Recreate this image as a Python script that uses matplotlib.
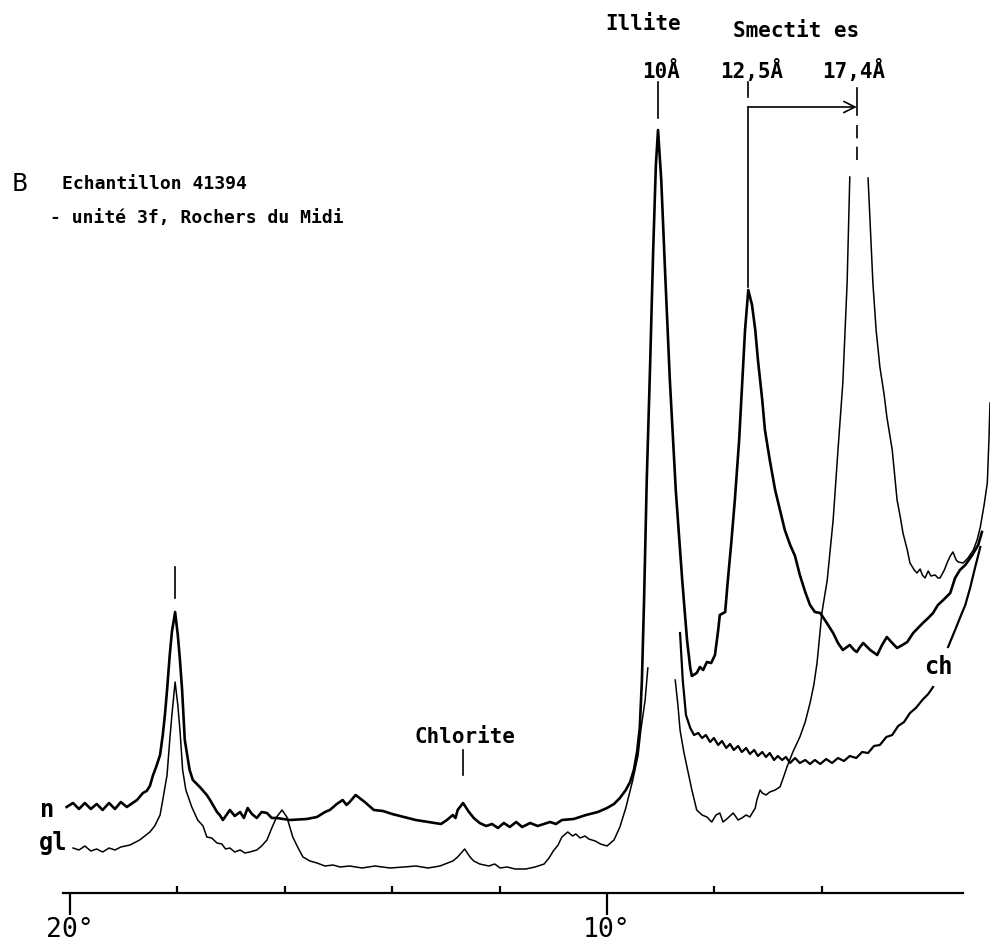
import numpy as np
import matplotlib
matplotlib.use("Agg")
from matplotlib import pyplot as plt

# digitised traces: (2theta in degrees, intensity above the base line)
# n = natural, gl = glycolated, ch = heated; nan = pen gap / off scale
n_trace = [
    (20.06, 86), (19.94, 90), (19.83, 84), (19.72, 90), (19.61, 84), (19.50, 89),
    (19.39, 83), (19.27, 90), (19.16, 84), (19.05, 91), (18.94, 86), (18.83, 90),
    (18.75, 93), (18.64, 100), (18.57, 102), (18.51, 107), (18.45, 118), (18.40, 125),
    (18.32, 138), (18.27, 158), (18.23, 178), (18.19, 203), (18.14, 238), (18.10, 261),
    (18.04, 281), (17.99, 258), (17.95, 233), (17.91, 203), (17.86, 153), (17.77, 123),
    (17.71, 113), (17.58, 106), (17.45, 98), (17.39, 93), (17.26, 81), (17.21, 78),
    (17.15, 73), (17.02, 83), (16.93, 77), (16.83, 81), (16.76, 75), (16.69, 85),
    (16.61, 79), (16.52, 75), (16.43, 81), (16.33, 80), (16.24, 75), (16.15, 75),
    (15.90, 73), (15.59, 74), (15.40, 76), (15.25, 81), (15.16, 83), (15.03, 89),
    (14.92, 93), (14.85, 88), (14.79, 91), (14.68, 98), (14.56, 93), (14.51, 91),
    (14.34, 83), (14.17, 82), (14.00, 79), (13.78, 76), (13.56, 73), (13.33, 71),
    (13.09, 69), (12.98, 73), (12.87, 78), (12.82, 75), (12.78, 83), (12.68, 90),
    (12.57, 81), (12.48, 75), (12.37, 70), (12.25, 67), (12.14, 69), (12.03, 65),
    (11.92, 70), (11.81, 66), (11.69, 71), (11.58, 66), (11.43, 70), (11.29, 67),
    (11.06, 71), (10.95, 69), (10.84, 73), (10.62, 74), (10.39, 78), (10.17, 81),
    (10.00, 85), (9.87, 89), (9.76, 95), (9.65, 103),
    (9.57, 111), (9.50, 123), (9.44, 141), (9.39, 165), (9.35, 213), (9.31, 293),
    (9.26, 413), (9.20, 523), (9.14, 643), (9.09, 728), (9.05, 763), (8.99, 713),
    (8.92, 623), (8.83, 513), (8.72, 403), (8.60, 313), (8.51, 253), (8.45, 225),
    (8.42, 217), (8.33, 220), (8.27, 226), (8.21, 223), (8.14, 231), (8.06, 230),
    (7.99, 238), (7.93, 263), (7.90, 278), (7.80, 281), (7.75, 313), (7.69, 348),
    (7.62, 393), (7.54, 453), (7.49, 503), (7.43, 563), (7.37, 603), (7.30, 588),
    (7.24, 563), (7.19, 533), (7.11, 493), (7.06, 463), (6.97, 433), (6.87, 403),
    (6.78, 383), (6.69, 363), (6.59, 348), (6.50, 337), (6.41, 318), (6.31, 301),
    (6.22, 288), (6.13, 281), (6.03, 280), (5.92, 271), (5.79, 260), (5.70, 250),
    (5.61, 243), (5.53, 246), (5.48, 248), (5.40, 243), (5.35, 241), (5.29, 246),
    (5.23, 250), (5.10, 243), (4.97, 238), (4.88, 248), (4.79, 256), (4.69, 250),
    (4.60, 245), (4.50, 248), (4.41, 251), (4.30, 260), (4.21, 265), (4.12, 270),
    (4.02, 275), (3.93, 280), (3.84, 288), (3.74, 293), (3.61, 300), (3.52, 315),
    (3.43, 323), (3.33, 328), (3.20, 338), (3.09, 348), (3.02, 361),
]

gl_trace = [
    (19.94, 45), (19.83, 43), (19.72, 47), (19.61, 42), (19.50, 44), (19.39, 41),
    (19.27, 45), (19.16, 43), (19.05, 46), (18.88, 48), (18.70, 53), (18.51, 61),
    (18.42, 67), (18.32, 78), (18.27, 93), (18.19, 118), (18.14, 153), (18.10, 178),
    (18.04, 211), (17.99, 188), (17.95, 163), (17.90, 123), (17.84, 103), (17.73, 86),
    (17.62, 73), (17.52, 67), (17.45, 56), (17.36, 55), (17.26, 50), (17.17, 49),
    (17.10, 44), (17.02, 45), (16.93, 41), (16.83, 43), (16.74, 40), (16.65, 41),
    (16.52, 43), (16.43, 47), (16.33, 53), (16.24, 65), (16.15, 76), (16.05, 83),
    (15.96, 76), (15.85, 56), (15.75, 45), (15.66, 36), (15.53, 32), (15.40, 30),
    (15.25, 27), (15.10, 28), (14.97, 26), (14.79, 27), (14.56, 25), (14.32, 27),
    (14.04, 25), (13.78, 26), (13.56, 27), (13.33, 25), (13.11, 27), (12.87, 32),
    (12.78, 36), (12.65, 44), (12.55, 36), (12.48, 32), (12.37, 29), (12.20, 27),
    (12.09, 29), (11.99, 25), (11.86, 26), (11.71, 24), (11.51, 24), (11.34, 26),
    (11.17, 29), (11.08, 35), (11.00, 42), (10.91, 48), (10.84, 56), (10.73, 61),
    (10.64, 57), (10.58, 59), (10.50, 55), (10.41, 57), (10.34, 54), (10.22, 52),
    (10.12, 49), (10.00, 47), (9.87, 53), (9.76, 66), (9.65, 85), (9.52, 113),
    (9.42, 138), (9.37, 163), (9.29, 193), (9.24, 225),
    (np.nan, np.nan),
    (8.73, 213), (8.68, 188), (8.64, 163), (8.57, 141), (8.51, 126), (8.42, 103),
    (8.33, 83), (8.23, 78), (8.14, 76), (8.05, 71), (7.97, 78), (7.90, 80),
    (7.84, 71), (7.75, 75), (7.65, 80), (7.56, 73), (7.49, 75), (7.41, 78),
    (7.34, 76), (7.24, 85), (7.21, 93), (7.15, 103), (7.11, 100), (7.04, 98),
    (6.97, 101), (6.87, 103), (6.78, 106), (6.70, 118), (6.65, 126), (6.54, 141),
    (6.41, 156), (6.31, 171), (6.22, 190), (6.15, 208), (6.09, 230), (6.00, 280),
    (5.90, 313), (5.79, 373), (5.70, 443), (5.61, 510), (5.53, 610), (5.48, 716),
    (np.nan, np.nan),
    (5.14, 715), (5.05, 610), (4.99, 563), (4.92, 526), (4.84, 498), (4.79, 476),
    (4.69, 443), (4.64, 415), (4.60, 393), (4.54, 376), (4.49, 360), (4.41, 343),
    (4.36, 330), (4.28, 323), (4.23, 320), (4.17, 324), (4.13, 318), (4.08, 315),
    (4.02, 322), (3.97, 317), (3.89, 318), (3.84, 315), (3.80, 315), (3.72, 323),
    (3.67, 330), (3.61, 337), (3.56, 341), (3.50, 333), (3.46, 331), (3.37, 330),
    (3.28, 335), (3.18, 343), (3.11, 353), (3.05, 366), (2.98, 388), (2.92, 410),
    (2.89, 453), (2.87, 490),
]

ch_trace = [
    (8.64, 260), (8.59, 213), (8.53, 178), (8.45, 165), (8.38, 158), (8.30, 160),
    (8.23, 155), (8.16, 158), (8.08, 151), (8.01, 155), (7.93, 148), (7.86, 152),
    (7.78, 145), (7.71, 149), (7.64, 143), (7.56, 147), (7.49, 141), (7.41, 145),
    (7.34, 139), (7.26, 143), (7.19, 137), (7.11, 141), (7.04, 136), (6.97, 140),
    (6.89, 133), (6.82, 137), (6.74, 133), (6.67, 136), (6.59, 130), (6.50, 135),
    (6.41, 130), (6.31, 133), (6.22, 129), (6.13, 133), (6.03, 129), (5.92, 134),
    (5.81, 130), (5.70, 135), (5.59, 132), (5.48, 137), (5.36, 135), (5.25, 141),
    (5.14, 140), (5.03, 147), (4.92, 148), (4.80, 156), (4.69, 158), (4.58, 167),
    (4.47, 171), (4.36, 180), (4.25, 185), (4.13, 193), (4.02, 199), (3.93, 206),
    (np.nan, np.nan),
    (3.65, 246), (3.52, 263), (3.43, 275), (3.33, 288), (3.24, 305), (3.15, 325),
    (3.05, 346),
]

# peak positions (2theta) used for the labels
illite_5 = 18.04
chlorite_7 = 12.68
illite_10 = 9.05
smectite_12 = 7.37
smectite_17 = 5.35

mono = "DejaVu Sans Mono"


def split(trace):
    arr = np.array(trace, dtype=float)
    return arr[:, 0], arr[:, 1]


fig = plt.figure(figsize=(9.9, 9.43), dpi=100)
ax = fig.add_axes([0, 0, 1, 1])
ax.set_xlim(21.30, 2.87)
ax.set_ylim(-50, 893)

x, y = split(n_trace)
ax.plot(x, y, color="black", lw=1.9, solid_joinstyle="round")
x, y = split(gl_trace)
ax.plot(x, y, color="black", lw=1.1, solid_joinstyle="round")
x, y = split(ch_trace)
ax.plot(x, y, color="black", lw=1.6, solid_joinstyle="round")

# 2theta axis
for s in ["top", "left", "right"]:
    ax.spines[s].set_visible(False)
ax.spines["bottom"].set_position(("data", 0))
ax.spines["bottom"].set_bounds(20.13, 3.37)
ax.spines["bottom"].set_linewidth(1.6)
ax.set_yticks([])
ax.set_xticks([20, 10])
ax.set_xticklabels(["20°", "10°"], fontfamily=mono, fontsize=19)
ax.set_xticks([18, 16, 14, 12, 8, 6], minor=True)
ax.tick_params(axis="x", which="major", direction="out", length=16, width=1.6, pad=1)
ax.tick_params(axis="x", which="minor", direction="in", length=5, width=1.6)

# peak markers
lk = dict(color="black", lw=1.2)
ax.plot([illite_5, illite_5], [295, 326], **lk)
ax.plot([chlorite_7, chlorite_7], [118, 143], **lk)
ax.plot([illite_10, illite_10], [775, 811], **lk)
ax.plot([smectite_12, smectite_12], [796, 811], **lk)
ax.plot([smectite_12, smectite_12], [606, 786], **lk)
ax.plot([smectite_17, smectite_17], [778, 805], **lk)
ax.plot([smectite_17, smectite_17], [733, 770], color="black", lw=1.2, dashes=(8, 5))
ax.annotate("", xy=(smectite_17, 786), xytext=(smectite_12, 786),
            arrowprops=dict(arrowstyle="->", lw=1.2, color="black", mutation_scale=20,
                            shrinkA=0, shrinkB=0))

# labels
tk = dict(fontfamily=mono, fontsize=15, fontweight="bold", ha="center")
ax.text(9.33, 869, "Illite", va="center", **tk)
ax.text(6.48, 862, "Smectit es", va="center", **tk)
ax.text(9.00, 815, "10Å", va="baseline", **tk)
ax.text(7.30, 815, "12,5Å", va="baseline", **tk)
ax.text(5.40, 815, "17,4Å", va="baseline", **tk)
ax.text(12.64, 156, "Chlorite", va="center", **tk)
ax.text(20.43, 83, "n", fontfamily=mono, fontsize=17, fontweight="bold", ha="center", va="center")
ax.text(20.32, 50, "gl", fontfamily=mono, fontsize=17, fontweight="bold", ha="center", va="center")
ax.text(3.84, 226, "ch", fontfamily=mono, fontsize=17, fontweight="bold", ha="center", va="center")

ax.text(21.08, 709, "B", fontfamily="DejaVu Sans", fontsize=17, ha="left", va="center")
ax.text(20.15, 709, "Echantillon 41394", fontfamily=mono, fontsize=13,
        fontweight="bold", ha="left", va="center")
ax.text(20.37, 675, "- unité 3f, Rochers du Midi", fontfamily=mono, fontsize=13,
        fontweight="bold", ha="left", va="center")

fig.savefig("out.png", dpi=100)
